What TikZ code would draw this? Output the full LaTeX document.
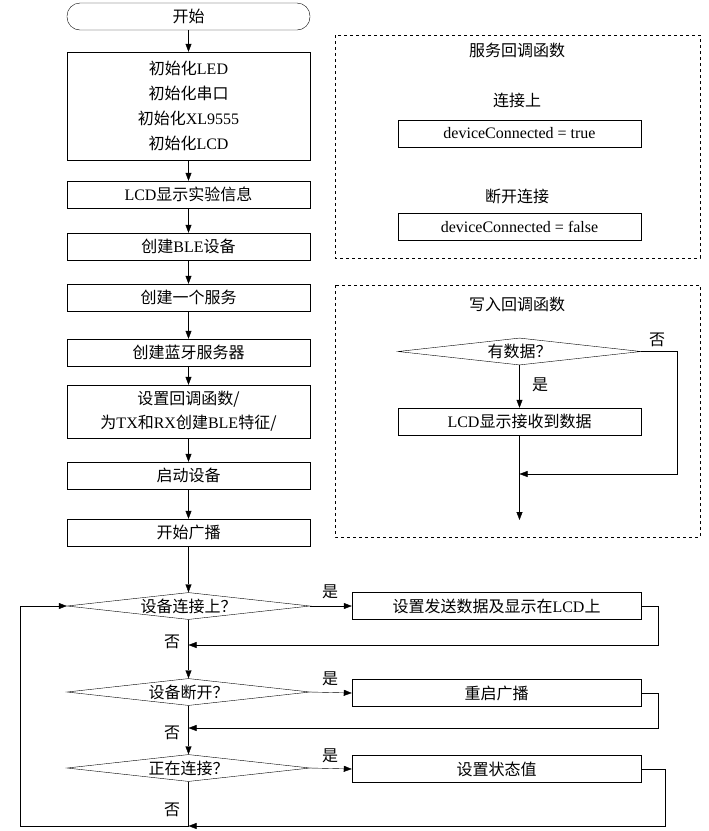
\documentclass[tikz,border=0pt]{standalone}
\usepackage{fontspec}
\setmainfont{Liberation Serif}
\newfontfamily\cjk{Noto Sans CJK SC}
\usetikzlibrary{shapes.geometric,arrows.meta}
\begin{document}
\begin{tikzpicture}[x=1pt,y=-1pt,font=\fontsize{16}{24}\selectfont\cjk,
 box/.style={draw,minimum width=243pt,minimum height=27pt,inner sep=0pt,align=center},
 dia/.style={draw,diamond,aspect=9.3,minimum width=243pt,minimum height=27pt,inner sep=0pt},
 line/.style={draw,-{Triangle[length=8pt,width=6pt]}},
 lab/.style={font=\fontsize{16}{18}\selectfont\cjk}]
\useasboundingbox (0,0) rectangle (709,831);
\node[box,rounded corners=13pt] (s) at (188.5,16.5) {开始};
\node[box,minimum height=108pt,font=\fontsize{16}{25}\selectfont\cjk] (init) at (188.5,106) {初始化\rmfamily LED\\初始化串口\\初始化\rmfamily XL9555\\初始化\rmfamily LCD};
\node[box] (b1) at (188.5,194.5) {\rmfamily LCD\cjk 显示实验信息};
\node[box] (b2) at (188.5,246.5) {创建\rmfamily BLE\cjk 设备};
\node[box] (b3) at (188.5,297.5) {创建一个服务};
\node[box] (b4) at (188.5,352.5) {创建蓝牙服务器};
\node[box,minimum height=53pt] (b5) at (188.5,411.5) {设置回调函数/\\为\rmfamily TX\cjk 和\rmfamily RX\cjk 创建\rmfamily BLE\cjk 特征/};
\node[box] (b6) at (188.5,475.5) {启动设备};
\node[box] (b7) at (188.5,532.5) {开始广播};
\node[dia] (d1) at (188.5,606) {设备连接上？};
\node[dia] (d2) at (188.5,692) {设备断开？};
\node[dia] (d3) at (188.5,768) {正在连接？};
\node[box,minimum width=289pt] (r1) at (496.5,606) {设置发送数据及显示在\rmfamily LCD\cjk 上};
\node[box,minimum width=289pt] (r2) at (496.5,693) {重启广播};
\node[box,minimum width=289pt] (r3) at (496.5,769) {设置状态值};
\foreach \a/\b in {s/init,init/b1,b1/b2,b2/b3,b3/b4,b4/b5,b5/b6,b6/b7,b7/d1,d1/d2,d2/d3}
  \path[line] (\a) -- (\b);
\path[line] (d1.east) -- (r1.west);
\path[line] (d2.east) -- (r2.west);
\path[line] (d3.east) -- (r3.west);
\coordinate (j1) at (188.5,645);
\coordinate (j2) at (188.5,728);
\coordinate (j3) at (188.5,826);
\path[line] (r1.east) -| (658,645) -- (j1);
\path[line] (r2.east) -| (658,728) -- (j2);
\path[line] (r3.east) -| (665,826) -- (j3);
\path[line] (d3.south) -- (188.5,826) -| (20,606) -- (d1.west);
\node[lab] at (330,592) {是};
\node[lab] at (330,679) {是};
\node[lab] at (330,756) {是};
\node[lab] at (172,642) {否};
\node[lab] at (172,733) {否};
\node[lab] at (172,810) {否};
% dashed panels
\draw[dashed] (335,35) rectangle (700,258);
\node at (517,50) {服务回调函数};
\node at (517,100) {连接上};
\node[box,minimum width=243pt,font=\fontsize{16}{18}\selectfont\rmfamily] (t1) at (519.5,133.5) {deviceConnected = true};
\node at (517,196) {断开连接};
\node[box,minimum width=243pt,font=\fontsize{16}{18}\selectfont\rmfamily] (t2) at (519.5,226.5) {deviceConnected = false};
\draw[dashed] (335,285) rectangle (700,537);
\node at (517,304) {写入回调函数};
\node[dia] (wd) at (519.5,351.5) {有数据？};
\node[box] (wb) at (519.5,421.5) {\rmfamily LCD\cjk 显示接收到数据};
\path[line] (wd) -- (wb);
\coordinate (we) at (519.5,520);
\path[line] (wb) -- (we);
\path[line] (wd.east) -- (677,351.5) -- (677,474) -- (519.5,474);
\node[lab] at (540,385) {是};
\node[lab] at (657,340) {否};
\end{tikzpicture}
\end{document}
